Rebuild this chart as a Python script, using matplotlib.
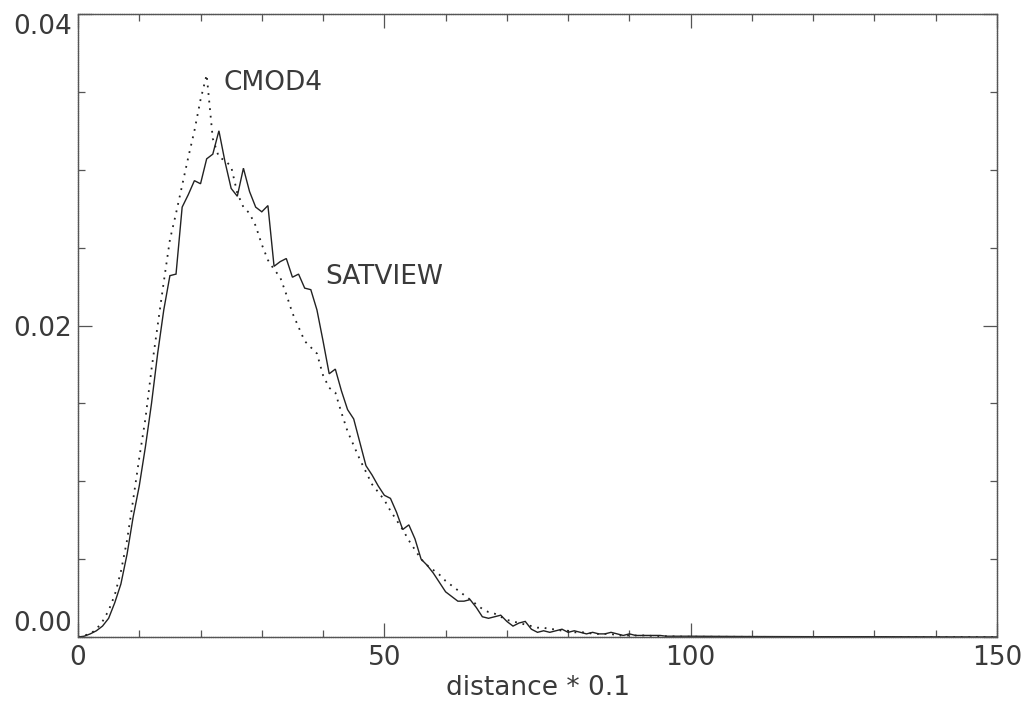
import matplotlib
matplotlib.use("Agg")
import matplotlib.pyplot as plt
from matplotlib.ticker import MultipleLocator, FixedLocator

plt.rcParams['font.family'] = ['DejaVu Sans']

# distance * 0.1 (0 .. 100 step 1, then sparse tail)
x_vals = list(range(0, 101)) + [110, 120, 130, 140, 150]

satview = [
    0.0, 0.00005, 0.0002, 0.0004, 0.0007, 0.0012, 0.0022, 0.0034, 0.0053, 0.0077,
    0.0097, 0.0122, 0.0150, 0.0182, 0.0210, 0.0232, 0.0233, 0.0276, 0.0284, 0.0293,
    0.0291, 0.0307, 0.0310, 0.0325, 0.0305, 0.0288, 0.0283, 0.0301, 0.0286, 0.0276,
    0.0273, 0.0277, 0.0238, 0.0241, 0.0243, 0.0231, 0.0233, 0.0224, 0.0223, 0.0210,
    0.0190, 0.0169, 0.0172, 0.0158, 0.0146, 0.0140, 0.0125, 0.0110, 0.0104, 0.0097,
    0.0091, 0.0089, 0.0080, 0.0069, 0.0072, 0.0063, 0.0050, 0.0046, 0.0041, 0.0035,
    0.0029, 0.0026, 0.0023, 0.0023, 0.0024, 0.0019, 0.0013, 0.0012, 0.0013, 0.0014,
    0.0010, 0.0007, 0.0009, 0.0010, 0.0005, 0.0003, 0.0004, 0.0003, 0.0004, 0.0005,
    0.0003, 0.0004, 0.0003, 0.0002, 0.0003, 0.0002, 0.0002, 0.0003, 0.0002, 0.0001,
    0.0002, 0.0001, 0.0001, 0.0001, 0.0001, 0.0001, 0.00005, 0.00005, 0.00005, 0.00005,
    0.00005, 0.00003, 0.00002, 0.00002, 0.00001, 0.0,
]

cmod4 = [
    0.0, 0.0001, 0.0002, 0.0005, 0.0010, 0.0017, 0.0027, 0.0042, 0.0062, 0.0088,
    0.0115, 0.0140, 0.0172, 0.0200, 0.0228, 0.0255, 0.0272, 0.0290, 0.0308, 0.0325,
    0.0345, 0.0361, 0.0320, 0.0308, 0.0306, 0.0302, 0.0285, 0.0276, 0.0272, 0.0264,
    0.0252, 0.0242, 0.0236, 0.0231, 0.0220, 0.0208, 0.0199, 0.0190, 0.0186, 0.0182,
    0.0168, 0.0160, 0.0157, 0.0144, 0.0132, 0.0123, 0.0114, 0.0106, 0.0098, 0.0093,
    0.0088, 0.0081, 0.0075, 0.0069, 0.0062, 0.0056, 0.0050, 0.0046, 0.0043, 0.0040,
    0.0036, 0.0033, 0.0030, 0.0027, 0.0024, 0.0021, 0.0018, 0.0016, 0.0015, 0.0013,
    0.0011, 0.0010, 0.0009, 0.0008, 0.0007, 0.0006, 0.0006, 0.0005, 0.0005, 0.0004,
    0.0004, 0.0003, 0.0003, 0.0003, 0.0002, 0.0002, 0.0002, 0.0002, 0.0001, 0.0001,
    0.0001, 0.0001, 0.0001, 0.0001, 0.00005, 0.00005, 0.00005, 0.00004, 0.00003, 0.00002,
    0.00002, 0.00001, 0.0, 0.0, 0.0, 0.0,
]

x_ticks = [0, 50, 100, 150]
x_ticklabels = ['0', '50', '100', '150']
y_ticks = [0.0, 0.02, 0.04]
y_ticklabels = ['0.00', '0.02', '0.04']

ink = '#3a3a3a'
fs = 19

fig = plt.figure(figsize=(10.34, 7.04), dpi=100)
ax = fig.add_axes([78 / 1034, 1 - 637 / 704, (997 - 78) / 1034, (637 - 14) / 704])

ax.plot(x_vals, satview, color='#222222', lw=1.0, solid_joinstyle='miter')
ax.plot(x_vals, cmod4, color='#222222', lw=1.3, linestyle=(0, (1, 3.2)))

ax.set_xlim(0, 150)
ax.set_ylim(0, 0.04)

ax.xaxis.set_major_locator(FixedLocator(x_ticks))
ax.set_xticklabels(x_ticklabels)
ax.xaxis.set_minor_locator(MultipleLocator(10))
ax.yaxis.set_major_locator(FixedLocator(y_ticks))
ax.set_yticklabels(y_ticklabels)
ax.yaxis.set_minor_locator(MultipleLocator(0.005))

ax.tick_params(which='both', direction='in', top=True, right=True,
               color='#555555', width=0.9)
ax.tick_params(which='major', length=10, labelsize=fs, labelcolor=ink)
ax.tick_params(axis='x', which='major', pad=6)
ax.tick_params(axis='y', which='major', pad=4)
ax.tick_params(which='minor', length=5)

for sp in ax.spines.values():
    sp.set_color('#555555')
    sp.set_linewidth(1.0)
    sp.set_linestyle((0, (1, 0.6)))

# IDL-like vertical placement of y labels
ylabs = ax.get_yticklabels()
ylabs[0].set_va('bottom')
ylabs[2].set_va('top')

ax.set_xlabel('distance * 0.1', fontsize=fs, color=ink, va='center')
ax.xaxis.set_label_coords(0.5, -(688 - 637) / 623)

ax.text(23.8, 0.0356, 'CMOD4', fontsize=fs, color=ink, va='center', ha='left')
ax.text(40.4, 0.0231, 'SATVIEW', fontsize=fs, color=ink, va='center', ha='left')

fig.savefig('out.png', dpi=100)
